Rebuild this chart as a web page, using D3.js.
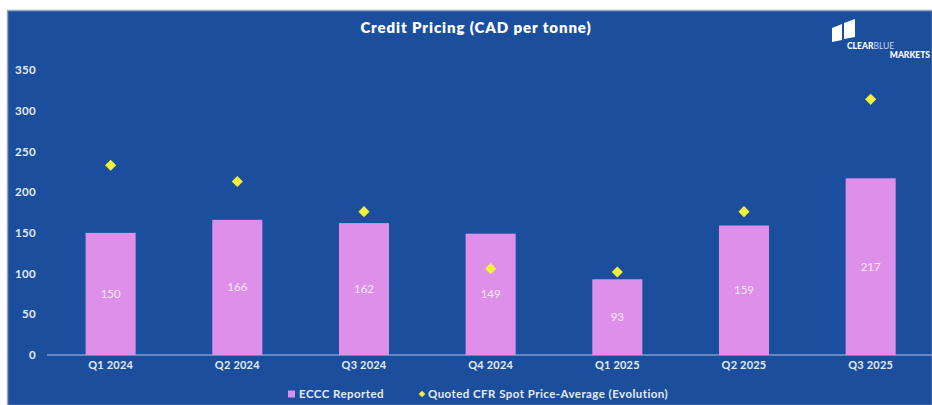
<!DOCTYPE html>
<html>
<head>
<meta charset="utf-8">
<script src="https://cdn.jsdelivr.net/npm/d3@7"></script>
<style>
  html, body { margin: 0; padding: 0; background: #ffffff; }
  svg { display: block; }
  text { font-family: Lato, "Open Sans", sans-serif; }
</style>
</head>
<body>
<svg id="chart" width="932" height="405"></svg>
<script>
const categories = ["Q1 2024", "Q2 2024", "Q3 2024", "Q4 2024", "Q1 2025", "Q2 2025", "Q3 2025"];
const ecccReported = [150, 166, 162, 149, 93, 159, 217];
const quotedSpot = [233, 213, 176, 106, 102, 176, 314];
const yTicks = [0, 50, 100, 150, 200, 250, 300, 350];
const seriesNames = ["ECCC Reported", "Quoted CFR Spot Price-Average (Evolution)"];
const title = "Credit Pricing (CAD per tonne)";

const W = 932, H = 405;
const BG = "#1b4f9e", BAR = "#de8fea", DIAMOND = "#f3f03c", TXT = "#e6ebf5";

const svg = d3.select("#chart");

// background panel
svg.append("rect").attr("x", 7.5).attr("y", 10.5).attr("width", W - 7).attr("height", H - 10)
  .attr("fill", BG).attr("stroke", "#9aa6bd").attr("stroke-width", 1.5);

const x = d3.scaleBand().domain(categories).range([47.3, 934])
  .paddingInner(0.605).paddingOuter(0.3025);
const y = d3.scaleLinear().domain([0, 350]).range([355, 70]);

// title
svg.append("text").attr("x", 476).attr("y", 33).attr("text-anchor", "middle")
  .attr("fill", "#ffffff").attr("font-size", 15).attr("font-weight", 800)
  .attr("letter-spacing", 0.9).text(title);

// y axis labels
const yAxis = d3.axisLeft(y).tickValues(yTicks).tickSize(0).tickPadding(0);
const yg = svg.append("g").attr("transform", "translate(36,0)").call(yAxis);
yg.select(".domain").remove();
yg.selectAll("text").attr("fill", TXT).attr("font-size", 11.5).attr("font-weight", 700)
  .attr("letter-spacing", 0.3).style("font-family", "Lato, sans-serif");

// baseline
svg.append("line").attr("x1", 47).attr("x2", W).attr("y1", y(0)).attr("y2", y(0))
  .attr("stroke", "#7f9bcb").attr("stroke-width", 1.5);

// bars
svg.append("g").selectAll("rect").data(ecccReported).join("rect")
  .attr("x", (d, i) => x(categories[i]))
  .attr("width", x.bandwidth())
  .attr("y", d => y(d))
  .attr("height", d => y(0) - y(d))
  .attr("fill", BAR);

// bar value labels
svg.append("g").selectAll("text").data(ecccReported).join("text")
  .attr("x", (d, i) => x(categories[i]) + x.bandwidth() / 2)
  .attr("y", d => (y(d) + y(0)) / 2 + 4)
  .attr("text-anchor", "middle").attr("fill", "#f6eaf9").attr("font-size", 11.5)
  .text(d => d);

// diamonds
const diamond = d3.symbol(d3.symbolSquare).size(62);
svg.append("g").selectAll("path").data(quotedSpot).join("path")
  .attr("d", diamond)
  .attr("transform", (d, i) => `translate(${x(categories[i]) + x.bandwidth() / 2},${y(d)}) rotate(45)`)
  .attr("fill", DIAMOND);

// x axis labels
const xAxis = d3.axisBottom(x).tickSize(0).tickPadding(0);
const xg = svg.append("g").attr("transform", `translate(0,${y(0) + 6})`).call(xAxis);
xg.select(".domain").remove();
xg.selectAll("text").attr("fill", TXT).attr("font-size", 11).attr("font-weight", 700)
  .attr("letter-spacing", 0.2).attr("dy", "0.71em").style("font-family", "Lato, sans-serif");

// legend
const lg = svg.append("g");
lg.append("rect").attr("x", 288).attr("y", 390.5).attr("width", 7).attr("height", 7).attr("fill", BAR);
lg.append("text").attr("x", 299).attr("y", 398).attr("fill", TXT).attr("font-size", 11.5)
  .attr("font-weight", 700).attr("letter-spacing", 0.45).text(seriesNames[0]);
lg.append("path").attr("d", d3.symbol(d3.symbolSquare).size(22))
  .attr("transform", "translate(422,394) rotate(45)").attr("fill", DIAMOND);
lg.append("text").attr("x", 428).attr("y", 398).attr("fill", TXT).attr("font-size", 11.5)
  .attr("font-weight", 700).attr("letter-spacing", 0.45).text(seriesNames[1]);

// logo
const logo = svg.append("g");
logo.append("path").attr("d", "M832,28 L842,24 L842,40 L832,42 Z").attr("fill", "#ffffff");
logo.append("path").attr("d", "M844,23 L855,19 L855,37 L844,39 Z").attr("fill", "#ffffff");
const lt = logo.append("text").attr("x", 847).attr("y", 49).attr("font-size", 8.5)
  .attr("font-weight", 900).attr("fill", "#ffffff");
lt.append("tspan").text("CLEAR");
lt.append("tspan").attr("font-weight", 400).attr("fill", "#c9d3ea").text("BLUE");
logo.append("text").attr("x", 930).attr("y", 58).attr("text-anchor", "end").attr("font-size", 8.5)
  .attr("font-weight", 900).attr("fill", "#ffffff").text("MARKETS");
</script>
</body>
</html>
